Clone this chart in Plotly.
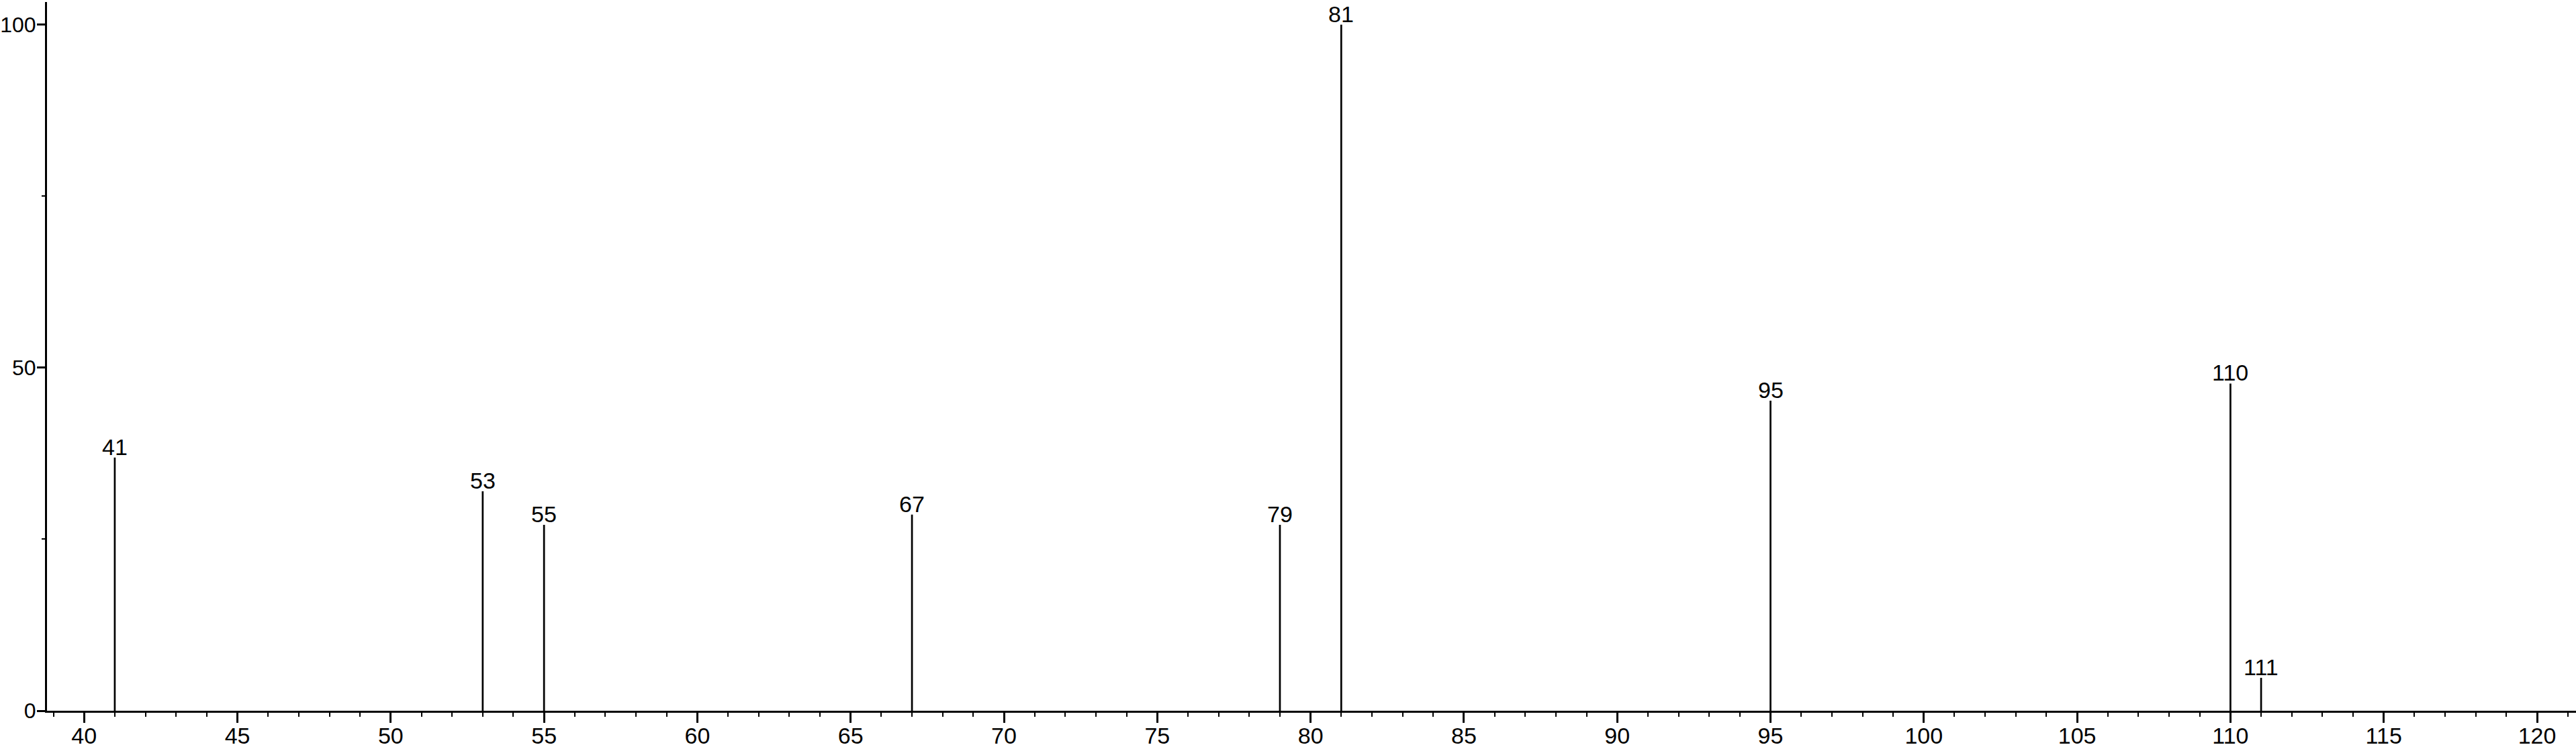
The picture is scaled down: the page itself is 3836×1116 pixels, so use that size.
import plotly.graph_objects as go

# m/z values and relative intensities
mz = [41, 53, 55, 67, 79, 81, 95, 110, 111]
intensity = [36.9, 32.0, 27.1, 28.6, 27.1, 100.0, 45.2, 47.7, 4.8]
labels = [str(m) for m in mz]

x_ticks = list(range(40, 121, 5))
y_ticks = [0, 50, 100]

FONT = "Liberation Sans, Arial, Helvetica, sans-serif"
FS = 34

xs, ys = [], []
for m, v in zip(mz, intensity):
    xs += [m, m, None]
    ys += [0, v, None]

fig = go.Figure()
fig.add_trace(go.Scatter(x=xs, y=ys, mode="lines",
                         line=dict(color="black", width=2.7),
                         hoverinfo="skip", showlegend=False))

for m, v, t in zip(mz, intensity, labels):
    fig.add_annotation(x=m, y=v, text=t, showarrow=False,
                       xanchor="center", yanchor="bottom", yshift=-5,
                       font=dict(family=FONT, size=FS, color="black"))

fig.update_layout(
    width=3836, height=1116,
    margin=dict(l=70, r=0, t=3, b=57, autoexpand=False),
    paper_bgcolor="white", plot_bgcolor="white",
    font=dict(family=FONT, size=FS, color="black"),
    showlegend=False,
)
fig.update_xaxes(
    range=[38.79, 121.27], showgrid=False, zeroline=False, automargin=False,
    showline=True, linecolor="black", linewidth=3,
    tickmode="array", tickvals=x_ticks, ticktext=[str(v) for v in x_ticks],
    ticks="outside", ticklen=15, tickwidth=3, tickcolor="black",
    ticklabelstandoff=-10,
    minor=dict(dtick=1, tick0=0, ticks="outside", ticklen=6, tickwidth=2, tickcolor="black"),
    tickfont=dict(family=FONT, size=FS, color="black"),
)
fig.update_yaxes(
    range=[0, 103.3], showgrid=False, zeroline=False, automargin=False,
    showline=True, linecolor="black", linewidth=3,
    tickmode="array", tickvals=y_ticks, ticktext=[str(v) for v in y_ticks],
    ticks="outside", ticklen=12, tickwidth=3, tickcolor="black",
    ticklabelstandoff=-5,
    minor=dict(tickmode="array", tickvals=[25, 75], ticks="outside", ticklen=5, tickwidth=2, tickcolor="black"),
    tickfont=dict(family=FONT, size=32, color="black"),
)

fig.write_html("out.html", config={"displayModeBar": False},
               post_script="document.body.style.margin='0';document.body.style.overflow='hidden';")
